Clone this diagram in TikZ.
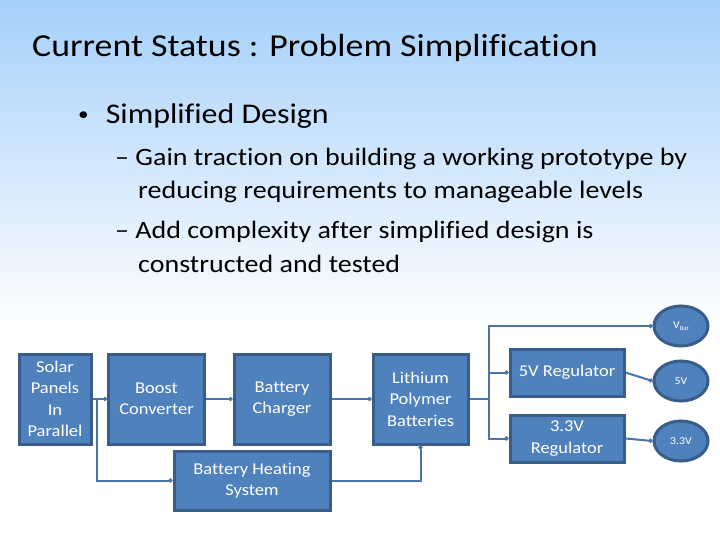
\documentclass[tikz,border=0pt]{standalone}
\usepackage{fontspec}
\setmainfont{Carlito}[FakeStretch=1.12, Ligatures=NoCommon]
\usepackage{tikz}
\usetikzlibrary{shapes.geometric}
\usetikzlibrary{arrows.meta}

\definecolor{boxfill}{RGB}{79,129,189}
\definecolor{boxedge}{RGB}{56,93,138}
\definecolor{wirecol}{RGB}{74,115,170}
\definecolor{skyblue}{RGB}{165,208,250}

\begin{document}
\begin{tikzpicture}[
	x=1pt, y=-1pt,
	box/.style={
		rectangle,
		draw=boxedge,
		line width=3pt,
		fill=boxfill,
		text=white,
		align=center,
		inner sep=0pt,
		font=\fontsize{16.5}{21.5}\selectfont
		},
	oval/.style={
		ellipse,
		draw=boxedge,
		line width=3pt,
		fill=boxfill,
		text=white,
		inner sep=0pt,
		minimum width=54pt,
		minimum height=40pt,
		font=\fontsize{10.5}{12}\selectfont
	},
	wire/.style={
		draw=wirecol,
		line width=2pt,
		-{Circle[length=4pt]}
	},
	slide/.style={
		anchor=base west,
		inner sep=0pt,
		align=left
	}
]

% Background
\useasboundingbox (0,0) rectangle (720,540);
\shade[top color=skyblue, bottom color=white] (0,0) rectangle (720,330);
\fill[white] (0,330) rectangle (720,540);

% Slide text (base anchor sits on the last line)
\node [slide, font=\fontsize{32}{38}\selectfont] (Title) at (32,57) {Current Status : Problem Simplification};
\node [slide, font=\fontsize{28.5}{34}\selectfont] (Bullet) at (78,124) {\raisebox{3.5pt}{\fontsize{19}{19}\selectfont\textbullet}\hspace{17pt}Simplified Design};
\node [slide, font=\fontsize{25}{33}\selectfont] (Point 1) at (115,199)
	{\textendash\ Gain traction on building a working prototype by\\\hspace{23pt}reducing requirements to manageable levels};
\node [slide, font=\fontsize{25}{33}\selectfont] (Point 2) at (115,272)
	{\textendash\ Add complexity after simplified design is\\\hspace{23pt}constructed and tested};

% Blocks
\node [box, minimum width=72pt, minimum height=90pt] (Solar Panels) at (55,399) {Solar\\Panels\\In\\Parallel};
\node [box, minimum width=96pt, minimum height=90pt] (Boost Converter) at (156.5,399) {Boost\\Converter};
\node [box, minimum width=96pt, minimum height=90pt] (Battery Charger) at (282,399) {Battery\\Charger};
\node [box, minimum width=156pt, minimum height=59pt] (Battery Heating) at (252,480.5) {Battery Heating\\System};
\node [box, minimum width=95pt, minimum height=90pt] (Lithium) at (420.5,399) {Lithium\\Polymer\\Batteries};
\node [box, minimum width=114pt, minimum height=47pt] (Reg 5V) at (567,372.5) {5V Regulator};
\node [box, minimum width=114pt, minimum height=47pt] (Reg 33V) at (567,438.5) {3.3V\\Regulator};

% Outputs
\node [oval] (Out Bat) at (681,326) {V\raisebox{-2.5pt}{\fontsize{6}{6}\selectfont Bat}};
\node [oval] (Out 5V) at (681,381) {5V};
\node [oval] (Out 33V) at (681,441) {3.3V};

% Wiring
\coordinate (Split Solar) at (97,399);
\coordinate (Split Batt) at (489,399);
\draw [wire] (Solar Panels.east) -- (Boost Converter.west);
\draw [wire] (Split Solar) |- (Battery Heating.west);
\draw [wire] (Boost Converter.east) -- (Battery Charger.west);
\draw [wire] (Battery Charger.east) -- (Lithium.west);
\draw [wire] (Battery Heating.east) -| (Lithium.south);
\draw [wire, -] (Lithium.east) -- (Split Batt);
\draw [wire] (Split Batt) |- (Out Bat.west);
\draw [wire] (Split Batt) |- (Reg 5V.west);
\draw [wire] (Split Batt) |- (Reg 33V.west);
\draw [wire] (Reg 5V.east) -- (Out 5V.west);
\draw [wire] (Reg 33V.east) -- (Out 33V.west);
\end{tikzpicture}
\end{document}
